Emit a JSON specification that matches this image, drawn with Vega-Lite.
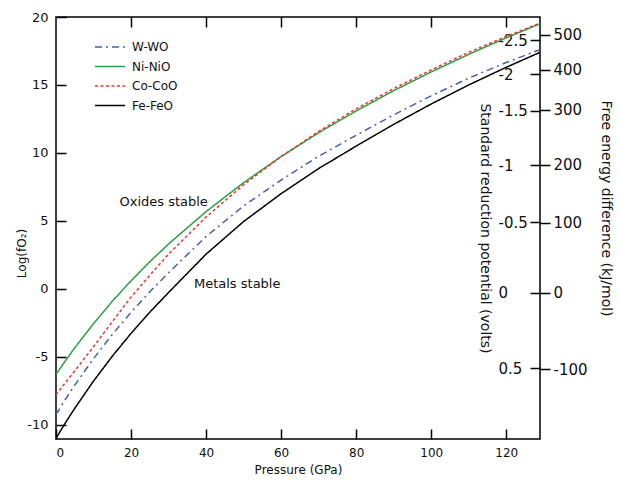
{
  "$schema": "https://vega.github.io/schema/vega-lite/v6.json",
  "width": 484,
  "height": 422,
  "autosize": {"type": "none"},
  "padding": {"left": 56, "top": 17, "right": 79, "bottom": 41},
  "background": "white",
  "config": {
    "view": {"stroke": "#000", "strokeWidth": 1.5},
    "font": "DejaVu Sans",
    "axis": {"grid": false, "domain": false, "ticks": true, "tickOpacity": 1, "tickColor": "#000", "tickWidth": 1.5, "labelColor": "#111", "titleColor": "#111", "labelFont": "DejaVu Sans", "titleFont": "DejaVu Sans", "titleFontWeight": "normal"},
    "legend": {"orient": "none", "legendX": 38, "legendY": 21, "symbolType": "stroke", "symbolSize": 900, "labelFont": "DejaVu Sans", "labelFontSize": 12, "labelColor": "#111", "clipHeight": 18, "rowPadding": 1.5, "labelOffset": 6}
  },
  "datasets": {
    "curves": [
      {"P": 0, "W-WO": -9.25, "Ni-NiO": -6.3, "Co-CoO": -7.8, "Fe-FeO": -11.0},
      {"P": 2.5, "W-WO": -8.14, "Ni-NiO": -5.3, "Co-CoO": -6.9, "Fe-FeO": -9.86},
      {"P": 5, "W-WO": -7.09, "Ni-NiO": -4.34, "Co-CoO": -6.04, "Fe-FeO": -8.79},
      {"P": 10, "W-WO": -5.14, "Ni-NiO": -2.56, "Co-CoO": -4.26, "Fe-FeO": -6.79},
      {"P": 15, "W-WO": -3.36, "Ni-NiO": -0.92, "Co-CoO": -2.42, "Fe-FeO": -4.96},
      {"P": 20, "W-WO": -1.73, "Ni-NiO": 0.59, "Co-CoO": -0.61, "Fe-FeO": -3.28},
      {"P": 25, "W-WO": -0.22, "Ni-NiO": 1.99, "Co-CoO": 0.99, "Fe-FeO": -1.72},
      {"P": 30, "W-WO": 1.18, "Ni-NiO": 3.3, "Co-CoO": 2.55, "Fe-FeO": -0.27},
      {"P": 40, "W-WO": 3.85, "Ni-NiO": 5.68, "Co-CoO": 5.28, "Fe-FeO": 2.55},
      {"P": 50, "W-WO": 6.1, "Ni-NiO": 7.81, "Co-CoO": 7.66, "Fe-FeO": 4.95},
      {"P": 60, "W-WO": 8.0, "Ni-NiO": 9.73, "Co-CoO": 9.73, "Fe-FeO": 7.0},
      {"P": 70, "W-WO": 9.75, "Ni-NiO": 11.48, "Co-CoO": 11.58, "Fe-FeO": 8.85},
      {"P": 80, "W-WO": 11.3, "Ni-NiO": 13.09, "Co-CoO": 13.24, "Fe-FeO": 10.5},
      {"P": 90, "W-WO": 12.8, "Ni-NiO": 14.58, "Co-CoO": 14.73, "Fe-FeO": 12.1},
      {"P": 100, "W-WO": 14.2, "Ni-NiO": 15.96, "Co-CoO": 16.11, "Fe-FeO": 13.6},
      {"P": 110, "W-WO": 15.5, "Ni-NiO": 17.25, "Co-CoO": 17.4, "Fe-FeO": 15.0},
      {"P": 120, "W-WO": 16.65, "Ni-NiO": 18.47, "Co-CoO": 18.57, "Fe-FeO": 16.3},
      {"P": 129, "W-WO": 17.6, "Ni-NiO": 19.5, "Co-CoO": 19.55, "Fe-FeO": 17.4}
    ],
    "labels": [
      {"P": 28.7, "logfO2": 6.42, "label": "Oxides stable"},
      {"P": 48.3, "logfO2": 0.32, "label": "Metals stable"}
    ]
  },
  "layer": [
    {
      "data": {"name": "curves"},
      "transform": [{"fold": ["W-WO", "Ni-NiO", "Co-CoO", "Fe-FeO"], "as": ["series", "logfO2"]}],
      "mark": {"type": "line", "clip": true},
      "encoding": {
        "x": {"field": "P", "type": "quantitative", "scale": {"domain": [0, 129], "nice": false, "zero": false}, "axis": null},
        "y": {"field": "logfO2", "type": "quantitative", "scale": {"domain": [-11.05, 20], "nice": false, "zero": false}, "axis": null},
        "color": {"field": "series", "type": "nominal", "scale": {"domain": ["W-WO", "Ni-NiO", "Co-CoO", "Fe-FeO"], "range": ["#4a5fa8", "#2e9e44", "#e8352e", "#000000"]}, "legend": {"title": null}},
        "strokeDash": {"field": "series", "type": "nominal", "scale": {"domain": ["W-WO", "Ni-NiO", "Co-CoO", "Fe-FeO"], "range": [[7, 4, 2, 4], [1, 0], [3, 2.5], [1, 0]]}, "legend": {"title": null}},
        "strokeWidth": {"field": "series", "type": "nominal", "scale": {"domain": ["W-WO", "Ni-NiO", "Co-CoO", "Fe-FeO"], "range": [1.5, 1.5, 2, 3]}, "legend": {"title": null}}
      }
    },
    {
      "data": {"name": "labels"},
      "mark": {"type": "text", "font": "DejaVu Sans", "fontSize": 13, "color": "#111", "align": "center", "baseline": "middle"},
      "encoding": {
        "x": {"field": "P", "type": "quantitative", "scale": {"domain": [0, 129], "nice": false, "zero": false},
          "axis": {"orient": "bottom", "offset": -10, "values": [0, 20, 40, 60, 80, 100, 120], "tickSize": 10, "tickWidth": 1.5, "tickColor": "#000", "zindex": 5, "labelPadding": 8, "labelFontSize": 12, "title": "Pressure (GPa)", "titleFontSize": 12, "titleY": 35}},
        "y": {"field": "logfO2", "type": "quantitative", "scale": {"domain": [-11.05, 20], "nice": false, "zero": false},
          "axis": {"orient": "left", "offset": -10, "values": [-10, -5, 0, 5, 10, 15, 20], "labelExpr": "toString(datum.value)", "tickSize": 10, "tickWidth": 1.5, "tickColor": "#000", "zindex": 5, "labelPadding": 8, "labelFontSize": 13, "title": "Log(fO₂)", "titleFontSize": 12, "titleX": -38, "titleY": 236}},
        "text": {"field": "label"}
      }
    },
    {
      "data": {"name": "labels"},
      "mark": {"type": "point", "opacity": 0, "size": 0},
      "encoding": {
        "x": {"field": "P", "type": "quantitative", "scale": {"domain": [0, 129], "nice": false, "zero": false},
          "axis": {"orient": "top", "offset": -10, "values": [20, 40, 60, 80, 100, 120], "tickSize": 10, "tickWidth": 1.5, "tickColor": "#000", "labels": false, "title": null, "zindex": 5}},
        "y": {"field": "logfO2", "type": "quantitative", "scale": {"domain": [-11.05, 20], "nice": false, "zero": false},
          "axis": {"orient": "right", "values": [18.7, 16.12, 13.18, 9.14, 4.85, -0.29, -5.93], "labelExpr": "datum.value > 18 ? '500' : datum.value > 15 ? '400' : datum.value > 11 ? '300' : datum.value > 7 ? '200' : datum.value > 2 ? '100' : datum.value > -3 ? '0' : '-100'", "tickSize": 10, "tickWidth": 1.5, "tickColor": "#000", "labelPadding": 3, "labelFontSize": 15, "labelBaseline": "middle", "title": "Free energy difference (kJ/mol)", "titleFontSize": 14, "titleX": 58, "titleY": 191}}
      }
    },
    {
      "data": {"name": "labels"},
      "mark": {"type": "point", "opacity": 0, "size": 0},
      "encoding": {
        "x": {"field": "P", "type": "quantitative", "scale": {"domain": [0, 129], "nice": false, "zero": false}, "axis": null},
        "y": {"field": "logfO2", "type": "quantitative", "scale": {"domain": [-11.05, 20], "nice": false, "zero": false},
          "axis": {"orient": "right", "offset": -10, "values": [18.3, 15.8, 13.1, 9.1, 4.9, -0.3, -5.85], "labelExpr": "datum.value > 17 ? '-2.5' : datum.value > 14.5 ? '-2' : datum.value > 11 ? '-1.5' : datum.value > 7 ? '-1' : datum.value > 2 ? '-0.5' : datum.value > -3 ? '0' : '0.5'", "tickSize": 10, "tickWidth": 1.5, "tickColor": "#000", "labelAlign": "left", "labelPadding": -42, "labelFontSize": 15, "labelBaseline": "middle", "title": "Standard reduction potential (volts)", "titleFontSize": 14, "titleX": -53, "titleY": 211}}
      }
    }
  ],
  "resolve": {"axis": {"x": "independent", "y": "independent"}}
}
